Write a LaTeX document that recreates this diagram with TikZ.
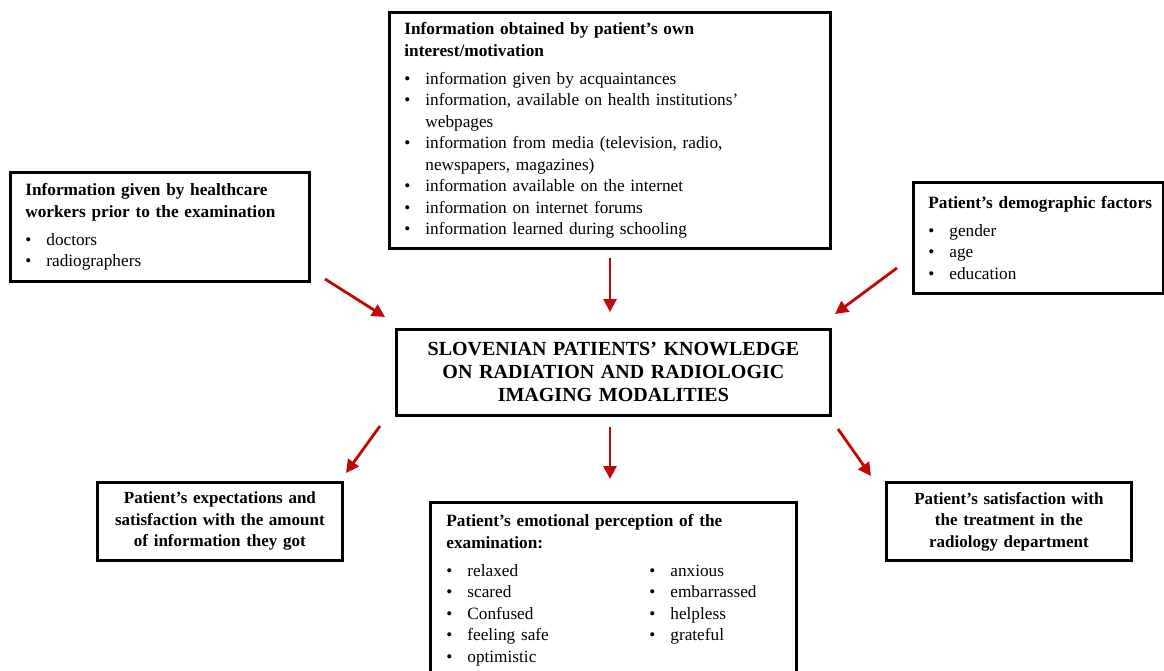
\documentclass[tikz,border=0pt]{standalone}
\usepackage{fontspec}
\setmainfont{Liberation Serif}
\usetikzlibrary{arrows.meta}
\definecolor{arrred}{RGB}{192,8,8}
\newcommand\hd[1]{\mbox{\bfseries #1}}
\newcommand\bi[1]{\mbox{\makebox[21pt][l]{\textbullet}#1}}
\newcommand\bc[1]{\mbox{\hspace*{21pt}#1}}
\newcommand\twocol[2]{\mbox{\makebox[203pt][l]{\makebox[21pt][l]{\textbullet}#1}\makebox[21pt][l]{\textbullet}#2}}
\begin{document}
\begin{tikzpicture}[x=1pt,y=-1pt,
  box/.style={draw, line width=2.8pt, anchor=north west, inner xsep=15pt, inner ysep=0pt,
    align=left, font=\fontsize{17.25}{21.5}\selectfont},
  cbox/.style={draw, line width=2.8pt, anchor=north west, inner xsep=4pt, inner ysep=0pt,
    align=center, font=\fontsize{17}{21.5}\selectfont\bfseries},
  arr/.style={draw=arrred, line width=2.8pt, -{Triangle[length=13pt,width=13pt]}}]
\clip (0,0) rectangle (1164,671);
\fill[white] (0,0) rectangle (1164,671);

% top box
\node[box, text width=411pt, minimum width=441pt, minimum height=236pt] (top) at (388,11) {%
\hd{Information obtained by patient’s own}\\
\hd{interest/motivation}\\[6.5pt]
\bi{information given by acquaintances}\\
\bi{information, available on health institutions’}\\
\bc{webpages}\\
\bi{information from media (television, radio,}\\
\bc{newspapers, magazines)}\\
\bi{information available on the internet}\\
\bi{information on internet forums}\\
\bi{information learned during schooling}};

% left box
\node[box, text width=269pt, minimum width=299pt, minimum height=109pt] (left) at (9,171) {%
\hd{Information given by healthcare}\\
\hd{workers prior to the examination}\\[6.5pt]
\bi{doctors}\\
\bi{radiographers}};

% right box
\node[box, text width=220pt, minimum width=250pt, minimum height=111pt] (right) at (912,181) {%
\hd{Patient’s demographic factors}\\[6.5pt]
\bi{gender}\\
\bi{age}\\
\bi{education}};

% center box
\node[cbox, font=\fontsize{20}{23}\selectfont\bfseries, text width=426pt, minimum width=434pt, minimum height=86pt] (center) at (395,328) {%
SLOVENIAN PATIENTS’ KNOWLEDGE\\
ON RADIATION AND RADIOLOGIC\\
IMAGING MODALITIES};

% bottom left
\node[cbox, text width=237pt, minimum width=245pt, minimum height=78pt] (bl) at (96,481) {%
Patient’s expectations and\\
satisfaction with the amount\\
of information they got};

% bottom right
\node[cbox, text width=237pt, minimum width=245pt, minimum height=78pt] (br) at (885,481) {%
Patient’s satisfaction with\\
the treatment in the\\
radiology department};

% bottom middle
\node[box, inner xsep=16pt, text width=334pt, minimum width=366pt, minimum height=176pt] (bm) at (429,501) {%
\hd{Patient’s emotional perception of the}\\
\hd{examination:}\\[6.5pt]
\twocol{relaxed}{anxious}\\
\twocol{scared}{embarrassed}\\
\twocol{Confused}{helpless}\\
\twocol{feeling safe}{grateful}\\
\bi{optimistic}};

% arrow end points
\coordinate (a1s) at (325,279); \coordinate (a1e) at (385,317);
\coordinate (a2s) at (610,258); \coordinate (a2e) at (610,312);
\coordinate (a3s) at (897,268); \coordinate (a3e) at (835,314);
\coordinate (a4s) at (380,426); \coordinate (a4e) at (346,473);
\coordinate (a5s) at (610,427); \coordinate (a5e) at (610,479);
\coordinate (a6s) at (838,429); \coordinate (a6e) at (871,476);

\draw[arr] (a1s) -- (a1e);
\draw[arr] (a2s) -- (a2e);
\draw[arr] (a3s) -- (a3e);
\draw[arr] (a4s) -- (a4e);
\draw[arr] (a5s) -- (a5e);
\draw[arr] (a6s) -- (a6e);
\end{tikzpicture}
\end{document}
